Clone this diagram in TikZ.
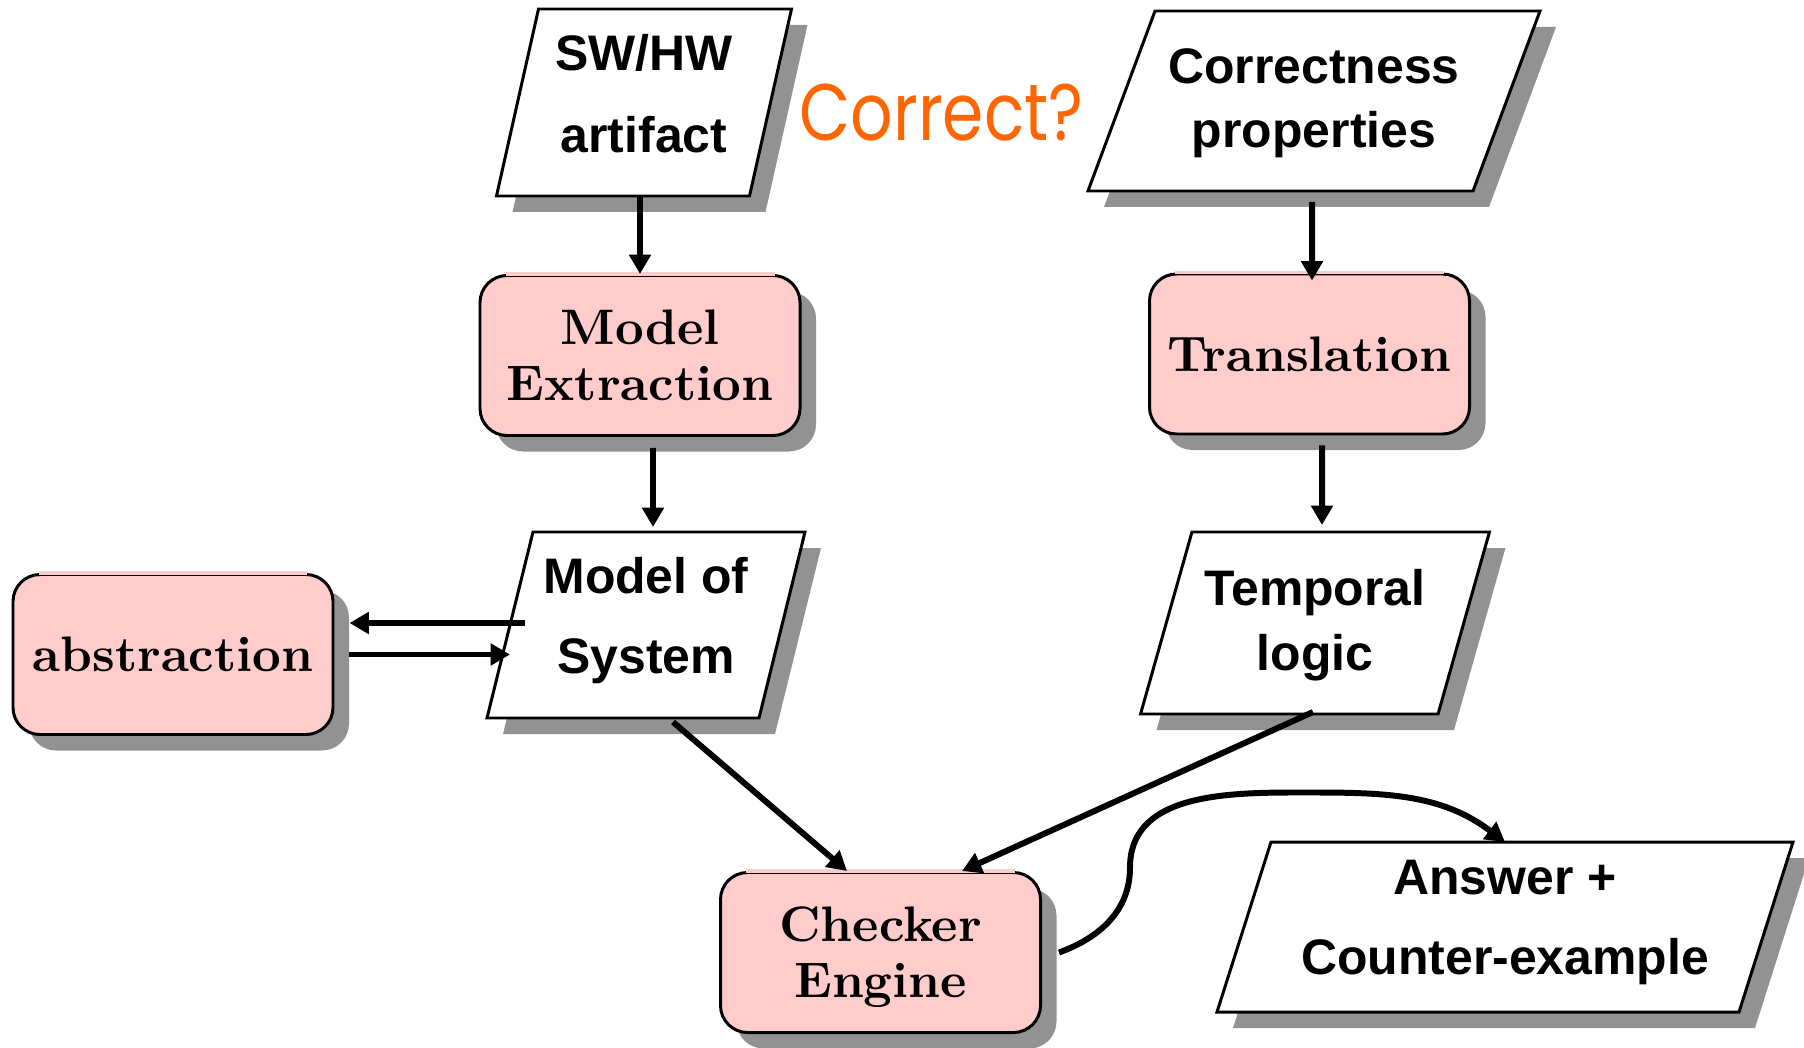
\documentclass[tikz,border=0pt]{standalone}
\usepackage{fontspec}
\usepackage{graphicx}
\setsansfont{Liberation Sans}
\newfontfamily\handfont{Poppins}
\newfontfamily\stepfont{lmroman10-bold}[Extension=.otf]
\usetikzlibrary{arrows.meta,shadows,backgrounds}

\definecolor{boxpink}{HTML}{FFCCCC}
\definecolor{shadowgray}{HTML}{929292}
\definecolor{remarkorange}{HTML}{FF6600}

\tikzset{
  box shadow/.style={drop shadow={shadow xshift=1.6mm, shadow yshift=-1.6mm, fill=shadowgray, opacity=1}},
  stage/.style={draw, line width=0.85pt, fill=boxpink, rounded corners=2.7mm,
    minimum width=3.2cm, minimum height=1.6cm, align=center, box shadow,
    font=\stepfont\fontsize{14.2}{15.9}\selectfont},
  data/.style={outer sep=0pt, inner sep=0pt, align=center,
    font=\sffamily\bfseries\fontsize{14.2}{17}\selectfont},
  dataline/.style={draw, line width=0.85pt, fill=white, box shadow},
  arr/.style={line width=1.7pt, -{Triangle[length=5.5pt,width=6pt]}},
}

\begin{document}
\begin{tikzpicture}
\useasboundingbox (0,0) rectangle (18.04,10.47);

% inputs and results (parallelograms)
\node[data, minimum width=2.53cm, minimum height=1.87cm, text depth=1.9mm] (swhw) at (6.44,9.445) {SW/HW\\[6.3pt]artifact};
\node[data, minimum width=3.85cm, minimum height=1.80cm, text depth=.6mm] (corr) at (13.14,9.46) {Correctness\\[1.2pt]properties};
\node[data, minimum width=2.72cm, minimum height=1.86cm, text depth=2mm] (model) at (6.46,4.22) {Model of\\[5.8pt]System};
\node[data, minimum width=2.975cm, minimum height=1.82cm, text depth=.7mm] (temp) at (13.15,4.24) {Temporal\\[1.5pt]logic};
\node[data, minimum width=5.22cm, minimum height=1.70cm, text depth=2mm] (ans) at (15.05,1.20) {Answer +\\[5.8pt]Counter-example};

\node[text=remarkorange, font=\handfont\fontsize{22.8}{24}\selectfont, anchor=base] (remark) at (9.415,9.06) {\scalebox{0.83}[1]{Correct?}};

% processing steps
\node[stage] (extract) at (6.40,6.915) {Model\\Extraction};
\node[stage] (transl) at (13.095,6.93) {Translation};
\node[stage] (abstr) at (1.73,3.925) {abstraction};
\node[stage, text depth=0pt] (chk) at (8.805,0.945) {Checker\\Engine};

% no rule along the top of the steps
\foreach \n in {extract,transl,abstr,chk}
  \draw[boxpink, line width=1pt] ([xshift=2.7mm]\n.north west) -- ([xshift=-2.7mm]\n.north east);

\begin{scope}[on background layer]
\foreach \n/\s in {swhw/2.1mm, corr/3.35mm, model/2.3mm, temp/2.57mm, ans/2.7mm}
  \draw[dataline] ([xshift=\s]\n.north west) -- ([xshift=\s]\n.north east)
    -- ([xshift=-\s]\n.south east) -- ([xshift=-\s]\n.south west) -- cycle;
\end{scope}

% flow
\draw[arr] (swhw.south -| extract.north) -- (extract.north);
\draw[arr] ([xshift=1.3mm,yshift=-1.1mm]extract.south) -- ([xshift=.7mm,yshift=.5mm]model.north);
\draw[arr] ([xshift=-.2mm,yshift=-1.1mm]corr.south) -- ([xshift=.25mm,yshift=-.8mm]transl.north);
\draw[arr] ([xshift=1.25mm,yshift=-1mm]transl.south) -- ([xshift=.7mm,yshift=.7mm]temp.north);
\draw[arr] ([xshift=2.7mm,yshift=-.4mm]model.south) -- ([xshift=-3.35mm]chk.north);
\draw[arr] ([xshift=-.2mm,yshift=.2mm]temp.south) -- ([xshift=8.15mm]chk.north);

\coordinate (back) at ([xshift=1.5mm,yshift=.2mm]model.west);
\coordinate (fwd) at ([xshift=1.5mm]abstr.east);
\draw[arr, shorten >=1.5mm] (back) -- (back -| abstr.east);
\draw[arr] (fwd) -- (fwd -| model.west);

\draw[arr] ([xshift=1.7mm]chk.east) to[out=20,in=-90] ++(0.71,0.85)
  to[out=90,in=180] ++(1.84,0.75) to[out=0,in=143] (ans.north);
\end{tikzpicture}
\end{document}
